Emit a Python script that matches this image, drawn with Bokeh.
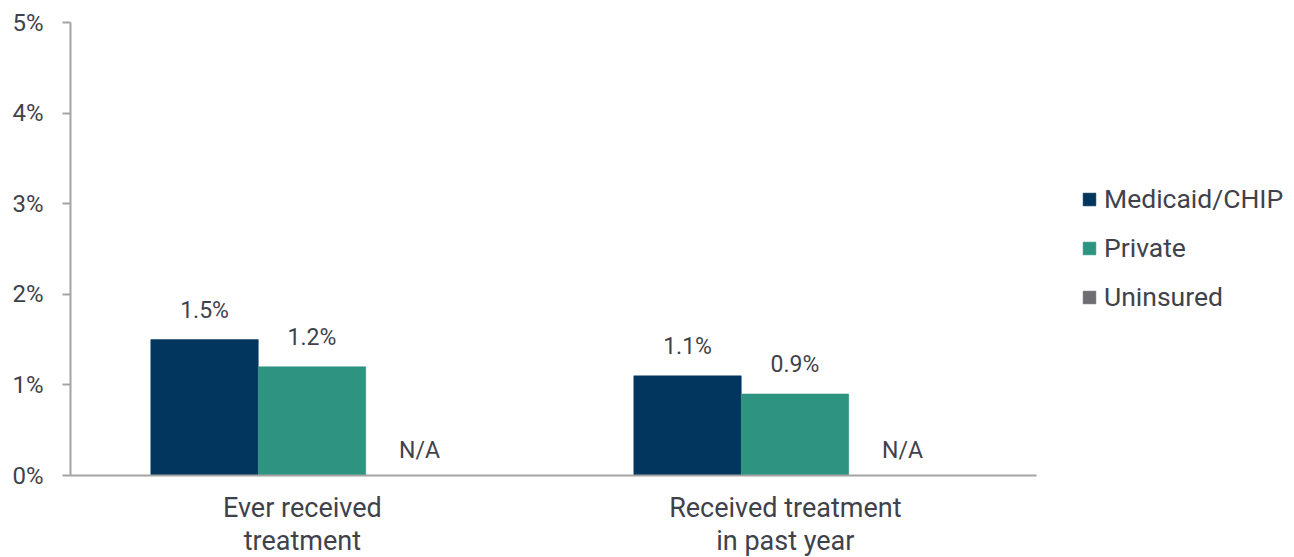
from bokeh.plotting import figure
from bokeh.models import (ColumnDataSource, Range1d, FixedTicker,
                          PrintfTickFormatter, Legend, LegendItem, LabelSet,
                          CustomJSTickFormatter)
from bokeh.core.properties import value
from bokeh.transform import dodge
from bokeh.embed import file_html
from bokeh.resources import INLINE

# Data
categories = ["Ever received\ntreatment", "Received treatment\nin past year"]
series = ["Medicaid/CHIP", "Private", "Uninsured"]
medicaid = [1.5, 1.1]
private = [1.2, 0.9]
uninsured = [float("nan"), float("nan")]
y_ticks = [0, 1, 2, 3, 4, 5]

colors = ["#02365f", "#2e9482", "#6d6e72"]
FONT = "Roboto"
TEXT = "#3f424b"
AXIS = "#a3a3a3"

# each group occupies one unit on the x scale, centred on i + 0.5
n = len(categories)
centres = [i + 0.5 for i in range(n)]

# The frame runs to the right edge so the legend can sit beside the bars;
# the axis line itself is bounded to the bar groups.
W, H = 1294, 557
LEFT, RIGHT, TOP, BOTTOM = 70, 10, 22, 82
GROUP_PX = 483
FRAME_W = W - LEFT - RIGHT
FRAME_H = H - TOP - BOTTOM
x_end = n * FRAME_W / (n * GROUP_PX)

p = figure(frame_width=FRAME_W, frame_height=FRAME_H,
           output_backend="svg", toolbar_location=None,
           x_range=Range1d(0, x_end), y_range=Range1d(0, 5),
           min_border_left=LEFT, min_border_right=RIGHT,
           min_border_top=TOP, min_border_bottom=BOTTOM)
p.outline_line_color = None
p.grid.grid_line_color = None
p.background_fill_color = "white"
p.border_fill_color = "white"

src = ColumnDataSource(dict(
    xc=centres, medicaid=medicaid, private=private, uninsured=uninsured,
    medicaid_lbl=[f"{v:.1f}%" for v in medicaid],
    private_lbl=[f"{v:.1f}%" for v in private],
    uninsured_lbl=["N/A" for _ in uninsured],
    zero=[0] * n,
))

bw = 0.2225
r_med = p.vbar(x=dodge("xc", -bw), top="medicaid", width=bw, source=src,
               fill_color=colors[0], line_color=colors[0], line_width=0.5)
r_pri = p.vbar(x=dodge("xc", 0), top="private", width=bw, source=src,
               fill_color=colors[1], line_color=colors[1], line_width=0.5)
r_uni = p.vbar(x=dodge("xc", bw), top="uninsured", width=bw, source=src,
               fill_color=colors[2], line_color=colors[2], line_width=0.5)

# Value labels above bars ("N/A" where there is no estimate)
for xo, field, lbl, off in [(-bw, "medicaid", "medicaid_lbl", 16),
                            (0, "private", "private_lbl", 16),
                            (bw, "zero", "uninsured_lbl", 12)]:
    p.add_layout(LabelSet(x=dodge("xc", xo), y=field, text=lbl, source=src,
                          text_align="center", text_baseline="bottom",
                          y_offset=off, text_font=value(FONT),
                          text_font_size="23px", text_color=TEXT))

# Y axis
p.yaxis.ticker = FixedTicker(ticks=y_ticks)
p.yaxis.formatter = PrintfTickFormatter(format="%d%%")
p.yaxis.major_tick_out = 8
p.yaxis.major_tick_in = 0
p.yaxis.minor_tick_line_color = None
p.yaxis.major_label_standoff = 19
p.yaxis.axis_line_color = AXIS
p.yaxis.axis_line_width = 2
p.yaxis.major_tick_line_color = AXIS
p.yaxis.major_tick_line_width = 2
p.yaxis.major_label_text_font = FONT
p.yaxis.major_label_text_font_size = "24px"
p.yaxis.major_label_text_color = TEXT

# X axis: group names, set slightly left of the bar groups
p.xaxis.bounds = (0, n)
p.xaxis.ticker = FixedTicker(ticks=[c - 0.02 for c in centres])
p.xaxis.formatter = CustomJSTickFormatter(args=dict(names=categories),
                                          code="return names[index];")
p.xaxis.axis_line_color = AXIS
p.xaxis.axis_line_width = 2
p.xaxis.major_tick_line_color = None
p.xaxis.minor_tick_line_color = None
p.xaxis.major_label_standoff = 10
p.xaxis.major_label_text_font = FONT
p.xaxis.major_label_text_font_size = "27px"
p.xaxis.major_label_text_line_height = 1.06
p.xaxis.major_label_text_color = TEXT

legend = Legend(items=[LegendItem(label=series[0], renderers=[r_med]),
                       LegendItem(label=series[1], renderers=[r_pri]),
                       LegendItem(label=series[2], renderers=[r_uni])],
                location=(1011, 163), orientation="vertical",
                glyph_width=16, glyph_height=16, label_standoff=7,
                spacing=18, padding=0, margin=0,
                label_text_font=FONT, label_text_font_size="26.5px",
                label_text_color=TEXT, border_line_color=None,
                background_fill_alpha=0)
p.add_layout(legend)

open("out.html", "w").write(file_html(p, INLINE))
